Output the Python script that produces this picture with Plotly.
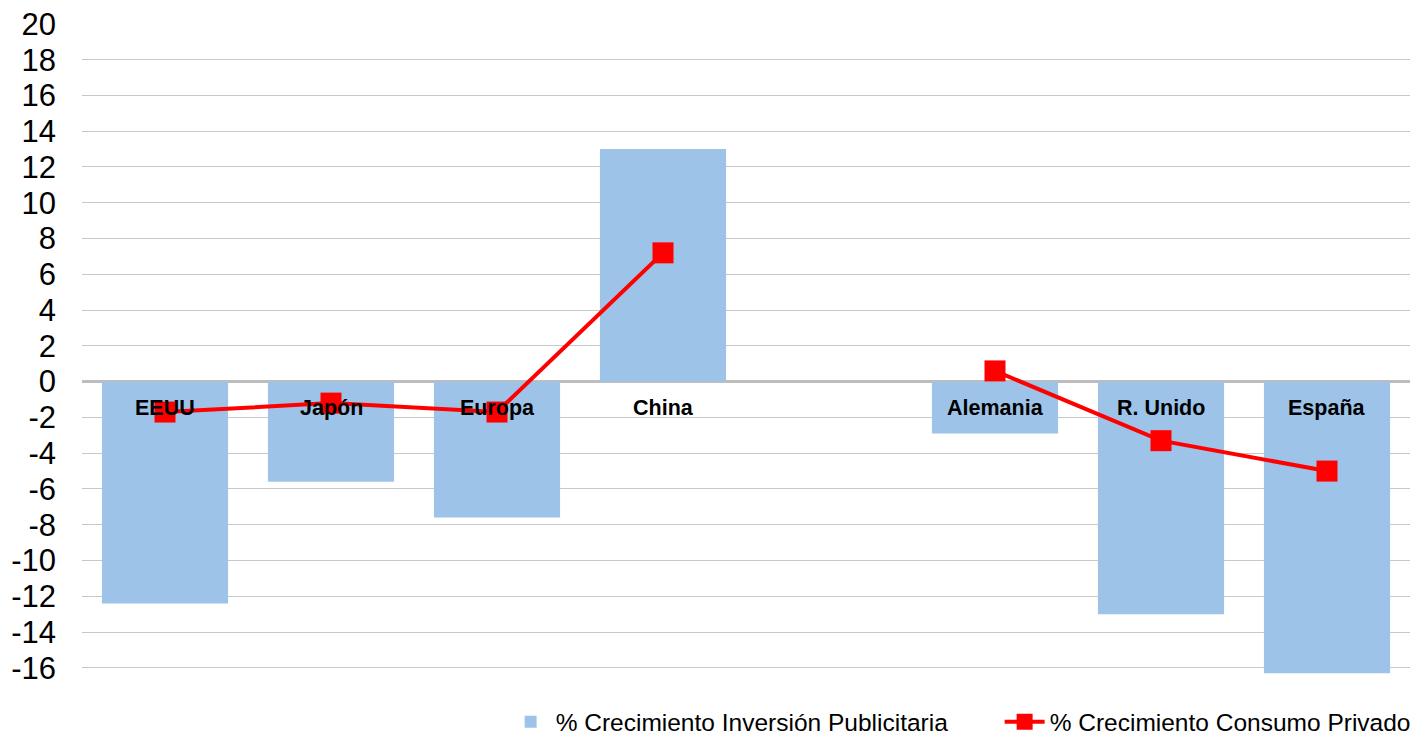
import plotly.graph_objects as go

categories = ["EEUU", "Japón", "Europa", "China", " ", "Alemania", "R. Unido", "España"]
inversion_publicitaria = [-12.4, -5.6, -7.6, 13.0, None, -2.9, -13.0, -16.3]
consumo_privado = [-1.7, -1.2, -1.7, 7.2, None, 0.6, -3.3, -5.0]
y_ticks = list(range(-16, 21, 2))
label_y = -1.45

fig = go.Figure()
fig.add_trace(go.Bar(
    x=categories, y=inversion_publicitaria,
    name="% Crecimiento Inversión Publicitaria",
    marker=dict(color="#9dc3e9", line=dict(width=0)),
))
fig.add_trace(go.Scatter(
    x=categories, y=consumo_privado,
    name="% Crecimiento Consumo Privado",
    mode="lines+markers",
    connectgaps=False,
    line=dict(color="#ff0000", width=4),
    marker=dict(symbol="square", size=21, color="#ff0000"),
))

for c in categories:
    if c.strip():
        fig.add_annotation(x=c, y=label_y, text="<b>%s</b>" % c, showarrow=False,
                           font=dict(family="Liberation Sans, Arial", size=21.5, color="#000000"),
                           yanchor="middle", xanchor="center")

fig.update_layout(
    width=1416, height=736,
    margin=dict(l=82, r=6, t=23, b=61, autoexpand=False),
    paper_bgcolor="white", plot_bgcolor="white",
    bargap=0.24,
    font=dict(family="Liberation Sans, Arial", color="#000000"),
    showlegend=True,
    legend=dict(orientation="h", x=0.319, xanchor="left", y=-0.072, yanchor="middle",
                font=dict(size=24.5, color="#000000"), itemwidth=40,
                entrywidth=439, entrywidthmode="pixels", traceorder="normal"),
    xaxis=dict(showticklabels=False, showgrid=False, zeroline=False, showline=False,
               ticks=""),
    yaxis=dict(range=[-16.4, 20.05], tickvals=y_ticks, ticktext=[str(v) for v in y_ticks],
               showgrid=True, gridcolor="#c8c8c8", gridwidth=1.3,
               zeroline=True, zerolinecolor="#bdbdbd", zerolinewidth=2.5,
               showline=False, ticks="", ticklabelstandoff=25,
               tickfont=dict(size=31, color="#000000")),
)

fig.write_html("out.html", config={"displayModeBar": False},
               post_script="document.body.style.margin='0';document.body.style.overflow='hidden';")
